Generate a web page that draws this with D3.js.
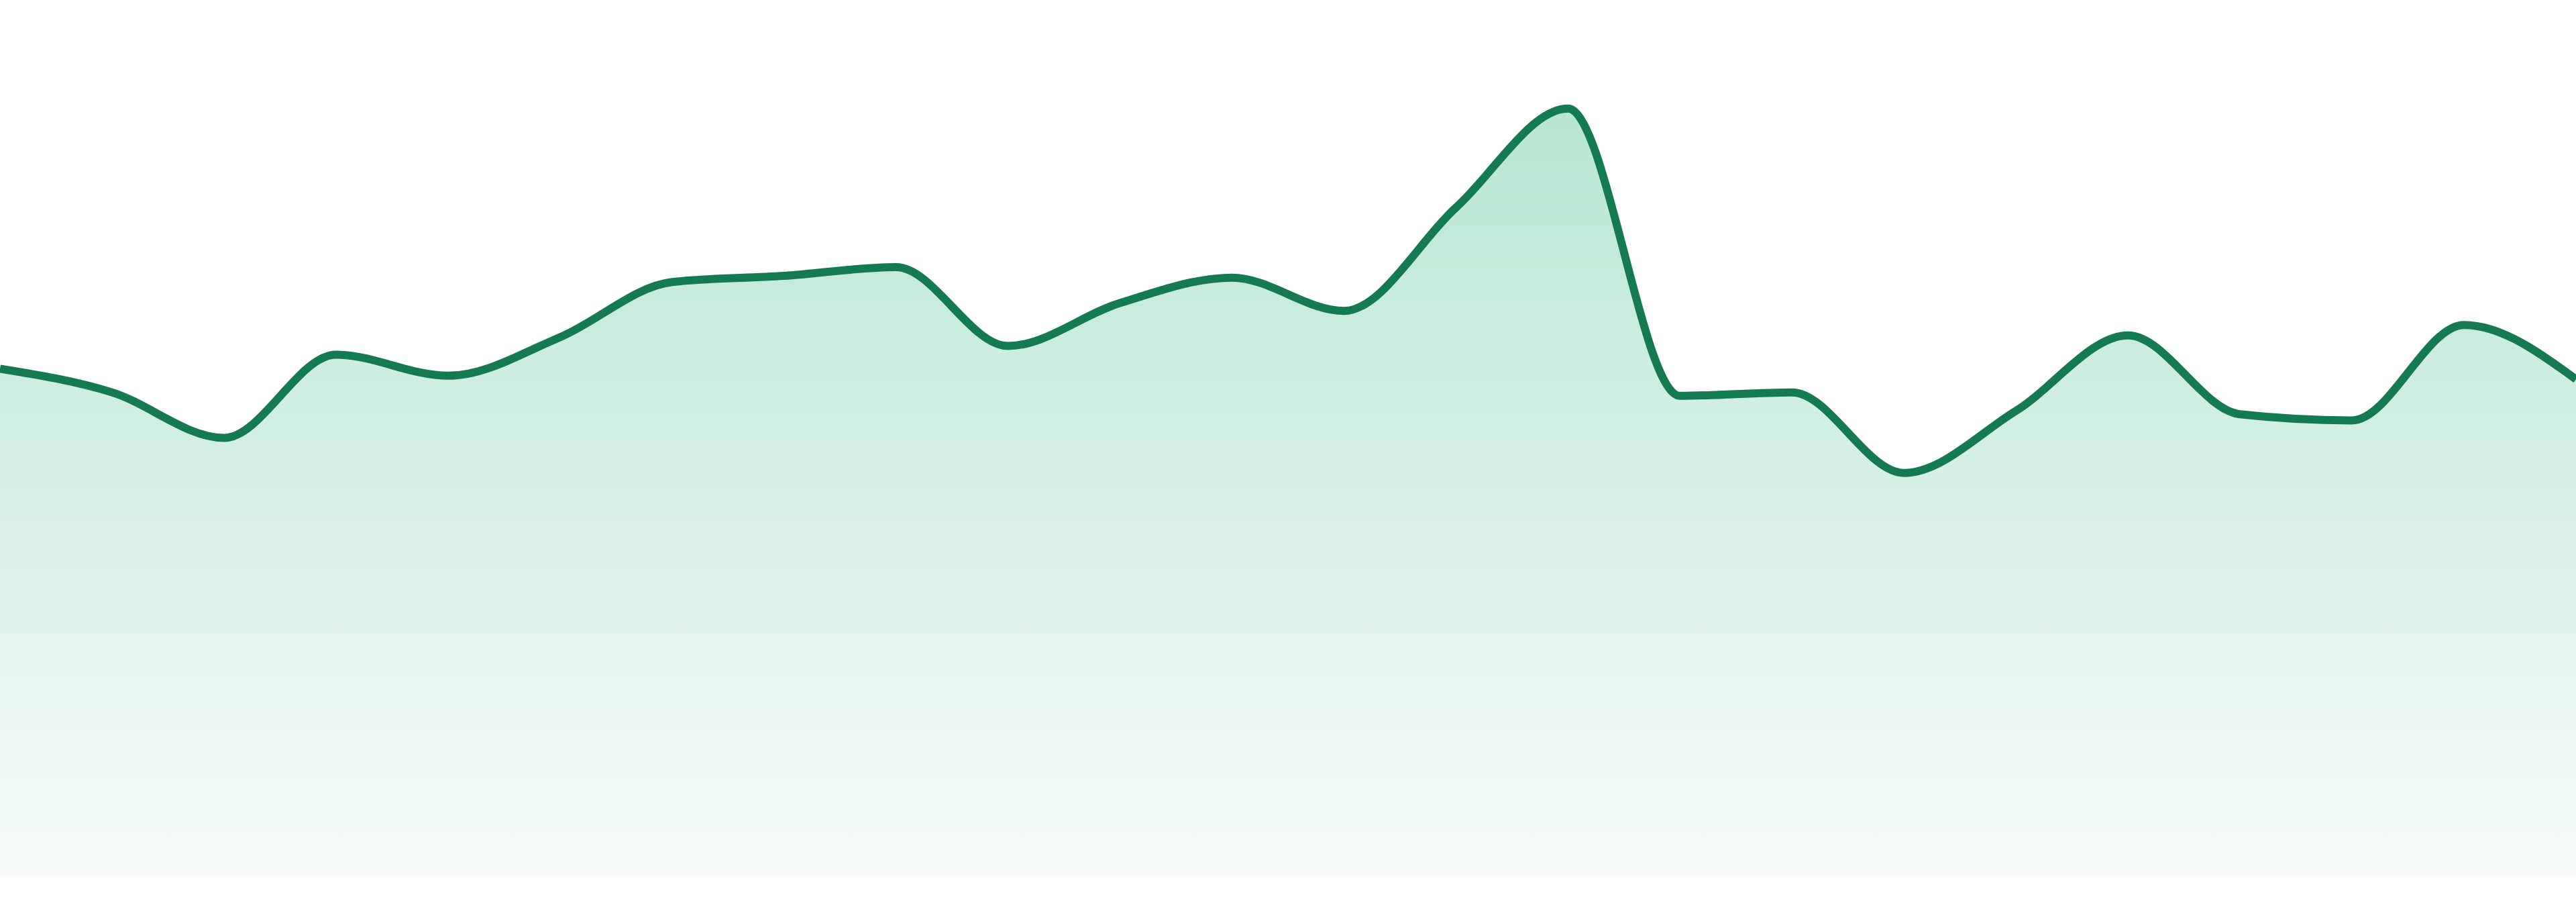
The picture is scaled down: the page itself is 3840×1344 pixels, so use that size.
<!DOCTYPE html>
<html>
<head>
<meta charset="utf-8">
<script src="https://cdn.jsdelivr.net/npm/d3@7"></script>
<style>
  html, body { margin: 0; padding: 0; background: #ffffff; overflow: hidden; }
  svg { display: block; }
</style>
</head>
<body>
<svg id="chart"></svg>
<script>
const width = 3840;
const height = 1344;
const baseline = 1305;

// one point per day
const days = [1,2,3,4,5,6,7,8,9,10,11,12,13,14,15,16,17,18,19,20,21,22,23,24];
const values = [57.9,55.2,50.0,59.5,57.1,61.5,67.8,68.5,69.5,60.5,65.4,68.3,
                64.5,76.3,87.6,54.8,55.2,46.0,53.1,61.7,52.7,52.0,62.9,56.7];

const data = days.map((d,i) => ({day: d, value: values[i]}));

const svg = d3.select('#chart')
    .attr('width', width)
    .attr('height', height)
    .attr('viewBox', [0, 0, width, height]);

const x = d3.scaleLinear()
    .domain(d3.extent(days))
    .range([0, width]);

const y = d3.scaleLinear()
    .domain([0, 100])
    .range([baseline, 0]);

const grad = svg.append('defs')
    .append('linearGradient')
    .attr('id', 'fillGrad')
    .attr('x1', 0).attr('y1', 0)
    .attr('x2', 0).attr('y2', 1);
grad.append('stop').attr('offset', '0%').attr('stop-color', '#b8e6d3');
grad.append('stop').attr('offset', '100%').attr('stop-color', '#f6fbf9');

const area = d3.area()
    .x(d => x(d.day))
    .y0(y(0))
    .y1(d => y(d.value))
    .curve(d3.curveMonotoneX);

const line = d3.line()
    .x(d => x(d.day))
    .y(d => y(d.value))
    .curve(d3.curveMonotoneX);

svg.append('path')
    .datum(data)
    .attr('fill', 'url(#fillGrad)')
    .attr('d', area);

svg.append('path')
    .datum(data)
    .attr('fill', 'none')
    .attr('stroke', '#147a52')
    .attr('stroke-width', 12)
    .attr('stroke-linejoin', 'round')
    .attr('d', line);
</script>
</body>
</html>
